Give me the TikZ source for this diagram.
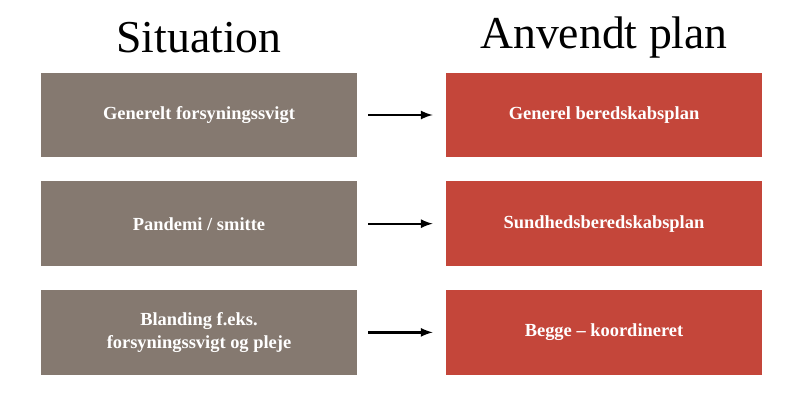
\documentclass[tikz,border=0pt]{standalone}
\usepackage{fontspec}
\setmainfont{Liberation Serif}
\usetikzlibrary{positioning}
\definecolor{sitgray}{HTML}{857970}
\definecolor{planred}{HTML}{C4463A}
\begin{document}
\begin{tikzpicture}[x=0.02cm,y=-0.02cm,
  box/.style={minimum width=6.32cm, minimum height=1.7cm, text=white,
    font=\bfseries\fontsize{10.5}{13}\selectfont, align=center, inner sep=0pt},
  sit/.style={box, fill=sitgray},
  plan/.style={box, fill=planred},
  head/.style={font=\fontsize{26}{30}\selectfont},
  arr/.style={-latex, line width=1.3pt}]
\useasboundingbox (0,0) rectangle (800,400);
\node [sit] (s1) at (199,115) {Generelt forsyningssvigt};
\node [sit, below=0.46cm of s1] (s2) {Pandemi / smitte};
\node [sit, below=0.46cm of s2] (s3) {Blanding f.eks.\\forsyningssvigt og pleje};
\node [plan] (p1) at (604,115) {Generel beredskabsplan};
\node [plan, below=0.46cm of p1] (p2) {Sundhedsberedskabsplan};
\node [plan, below=0.46cm of p2] (p3) {Begge -- koordineret};
\node [head] (h1) at (199,38) {Situation};
\node [head] (h2) at (604,38) {Anvendt plan};
% pile mellem boksene
\foreach \i in {1,2,3}
  \draw [arr] ([xshift=0.22cm]s\i.east) -- ([xshift=-0.26cm]p\i.west);
\end{tikzpicture}
\end{document}
